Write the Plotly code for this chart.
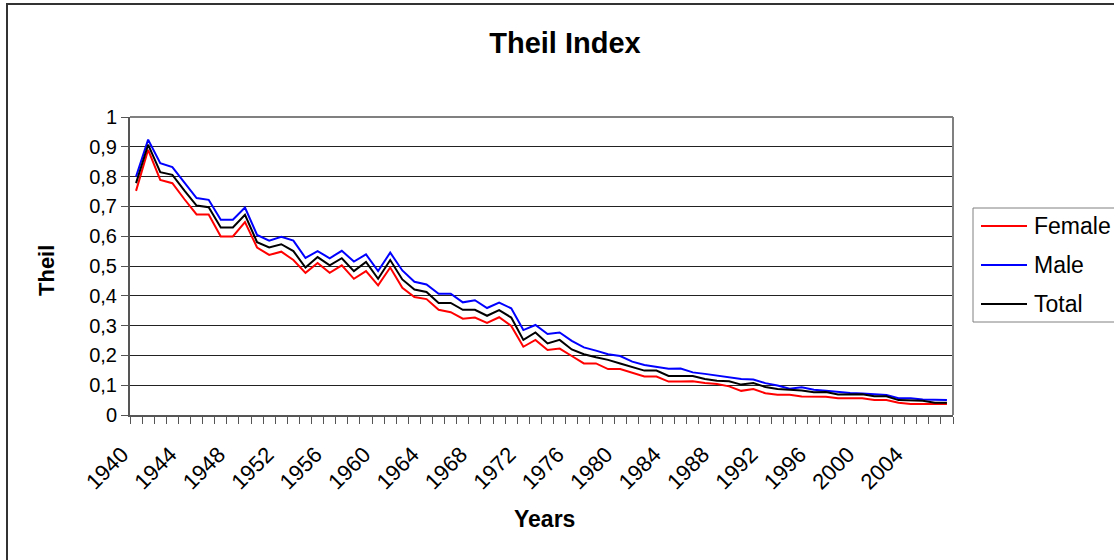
import plotly.graph_objects as go

# Years on the category axis
years = list(range(1940, 2008))
tick_years = list(range(1940, 2008, 4))

# Theil index by sex
female = [0.752, 0.89, 0.789, 0.778, 0.724, 0.673, 0.673, 0.599, 0.599, 0.647, 0.562, 0.537, 0.548, 0.52, 0.477, 0.51,
          0.477, 0.502, 0.457, 0.483, 0.435, 0.495, 0.427, 0.396, 0.389, 0.353, 0.345, 0.323, 0.327, 0.309, 0.328,
          0.299, 0.229, 0.252, 0.218, 0.223, 0.198, 0.173, 0.173, 0.154, 0.154, 0.142, 0.129, 0.129, 0.112, 0.112,
          0.113, 0.107, 0.104, 0.096, 0.081, 0.087, 0.073, 0.068, 0.068, 0.062, 0.062, 0.061, 0.056, 0.056,
          0.056, 0.05, 0.05, 0.041, 0.037, 0.037, 0.037, 0.037]
male = [0.80, 0.924, 0.845, 0.832, 0.78, 0.728, 0.722, 0.655, 0.655, 0.696, 0.604, 0.585, 0.598, 0.585, 0.527, 0.55,
        0.526, 0.551, 0.515, 0.539, 0.483, 0.545, 0.485, 0.447, 0.438, 0.407, 0.407, 0.378, 0.385, 0.359, 0.377,
        0.358, 0.285, 0.302, 0.272, 0.277, 0.249, 0.227, 0.216, 0.204, 0.198, 0.179, 0.168, 0.162, 0.155, 0.156,
        0.143, 0.138, 0.132, 0.127, 0.121, 0.119, 0.107, 0.099, 0.088, 0.093, 0.085, 0.081, 0.077, 0.074,
        0.072, 0.069, 0.067, 0.056, 0.056, 0.052, 0.05, 0.05]
total = [0.778, 0.907, 0.815, 0.806, 0.753, 0.703, 0.697, 0.629, 0.629, 0.672, 0.58, 0.562, 0.573, 0.55, 0.495, 0.53,
         0.502, 0.526, 0.483, 0.514, 0.457, 0.52, 0.455, 0.421, 0.413, 0.376, 0.376, 0.353, 0.353, 0.333, 0.352,
         0.327, 0.252, 0.277, 0.24, 0.252, 0.22, 0.204, 0.194, 0.185, 0.173, 0.16, 0.149, 0.149, 0.131, 0.131,
         0.131, 0.121, 0.115, 0.113, 0.102, 0.107, 0.094, 0.087, 0.085, 0.082, 0.076, 0.077, 0.069, 0.069,
         0.07, 0.063, 0.063, 0.05, 0.05, 0.048, 0.041, 0.041]

series = [("Female", female, "#FF0000"), ("Male", male, "#0000FF"), ("Total", total, "#000000")]

FONT = "Arial, Liberation Sans, sans-serif"

# Plot area in pixels (left, right, top, bottom)
PL, PR, PT, PB = 130, 953, 117, 415
PW, PH = PR - PL, PB - PT


def px(x):
    return (x - PL) / PW


def py(y):
    return (PB - y) / PH


fig = go.Figure()
for name, vals, color in series:
    fig.add_trace(go.Scatter(
        x=years, y=vals, name=name, mode="lines",
        line=dict(color=color, width=2),
        showlegend=False,
    ))

fig.update_layout(
    width=1114, height=560,
    margin=dict(l=PL, r=1114 - PR, t=PT, b=560 - PB),
    paper_bgcolor="white", plot_bgcolor="white",
    separators=", ",
    font=dict(family=FONT, color="black", size=20),
    title=dict(text="<b>Theil Index</b>", font=dict(size=29, family=FONT),
               x=565 / 1114, xref="container", xanchor="center",
               y=1 - 43 / 560, yref="container", yanchor="middle"),
)

fig.update_xaxes(
    range=[1939.5, 2007.5],
    tickmode="array", tickvals=tick_years, ticktext=[str(y) for y in tick_years],
    tickangle=-45, ticks="outside", ticklen=0,
    ticklabelstandoff=16, ticklabelshift=-14,
    tickfont=dict(size=22, family=FONT),
    showgrid=False, zeroline=False,
    showline=True, linecolor="#555555", linewidth=2, mirror=False,
    minor=dict(tick0=1939.5, dtick=1, ticks="outside", ticklen=7, tickcolor="#555555", tickwidth=1, showgrid=False),
)
fig.update_yaxes(
    range=[0, 1], tick0=0, dtick=0.1,
    ticks="outside", ticklen=7, tickcolor="#555555",
    tickfont=dict(size=20, family=FONT),
    showgrid=True, gridcolor="#222222", gridwidth=1,
    zeroline=False,
    showline=True, linecolor="#555555", linewidth=2,
)

# Plot-area frame (top and right edges) and chart-area frame
fig.add_shape(type="line", xref="paper", yref="paper", x0=0, x1=1, y0=1, y1=1,
              line=dict(color="#808080", width=2))
fig.add_shape(type="line", xref="paper", yref="paper", x0=1, x1=1, y0=0, y1=1,
              line=dict(color="#808080", width=2))
fig.add_shape(type="rect", xref="paper", yref="paper",
              x0=px(7), x1=px(1125), y0=py(570), y1=py(4),
              line=dict(color="#333333", width=2), fillcolor="rgba(0,0,0,0)")

# Legend box with one key line and label per series
fig.add_shape(type="rect", xref="paper", yref="paper",
              x0=px(973), x1=px(1130), y0=py(322), y1=py(208),
              line=dict(color="#808080", width=1), fillcolor="white")
for i, (name, _, color) in enumerate(series):
    yc = 226 + 39 * i
    fig.add_shape(type="line", xref="paper", yref="paper",
                  x0=px(981), x1=px(1027), y0=py(yc), y1=py(yc),
                  line=dict(color=color, width=2))
    fig.add_annotation(text=name, xref="paper", yref="paper",
                       x=px(1032), y=py(yc), xanchor="left", yanchor="middle",
                       showarrow=False, font=dict(size=23, family=FONT))

# Axis titles
fig.add_annotation(text="<b>Theil</b>", xref="paper", yref="paper",
                   x=px(46), y=py(271), xanchor="center", yanchor="middle", textangle=-90,
                   showarrow=False, font=dict(size=22, family=FONT))
fig.add_annotation(text="<b>Years</b>", xref="paper", yref="paper",
                   x=px(544), y=py(519), xanchor="center", yanchor="middle",
                   showarrow=False, font=dict(size=23, family=FONT))

fig.write_html("out.html")
